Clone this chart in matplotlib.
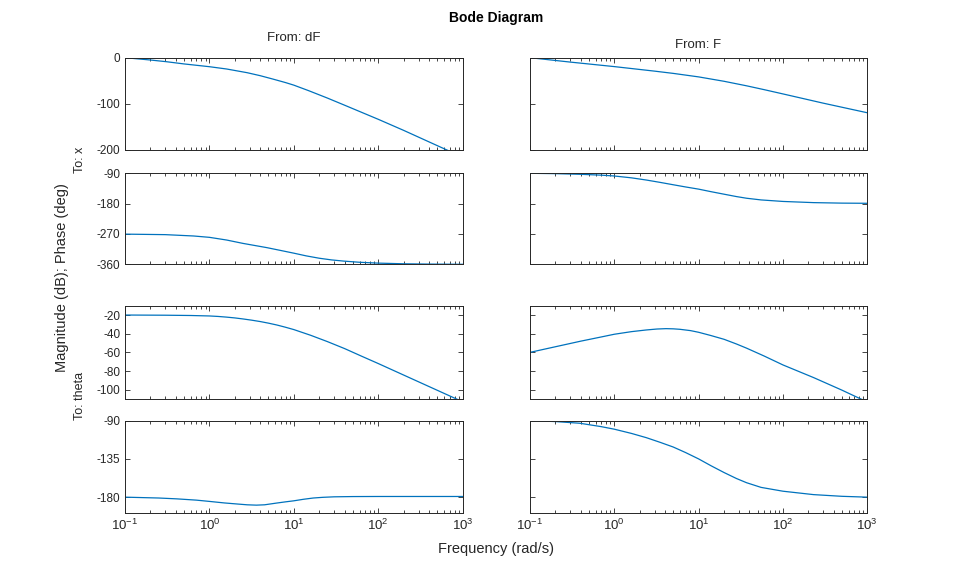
import matplotlib
matplotlib.use("Agg")
import matplotlib.pyplot as plt

plt.rcParams['font.family'] = ['Liberation Sans', 'DejaVu Sans']
plt.rcParams['mathtext.fontset'] = 'custom'
plt.rcParams['mathtext.rm'] = 'Liberation Sans'
plt.rcParams['axes.unicode_minus'] = False

### data (rad/s, dB, deg)
w_mag_dF_x = [0.1, 0.2, 0.31, 0.5, 1, 1.6, 2.8, 4, 5.7, 8, 10, 15, 25, 40, 60,
              100, 200, 400, 650, 1000]
mag_dF_x = [0, -5, -8.7, -13.5, -19.5, -24.5, -32.5, -39, -46.5, -54, -59.5,
            -71.5, -87.5, -103, -116.5, -133.5, -157.5, -182.5, -200, -215]
w_ph_dF_x = [0.1, 0.3, 0.65, 1, 1.6, 2.5, 3.5, 4.8, 7, 10, 14, 20, 28, 39, 60,
             100, 200, 370, 1000]
ph_dF_x = [-270.5, -272, -276, -280, -288, -298, -304.5, -310.6, -319, -327,
           -335, -342, -347, -350.5, -354, -356.5, -358.5, -359.3, -360]

w_mag_dF_th = [0.1, 0.3, 0.6, 1, 1.26, 1.58, 2, 2.5, 3.16, 4, 5, 6.3, 7.9, 10,
               15.8, 25, 40, 63, 100, 316, 1000]
mag_dF_th = [-20, -20.2, -20.5, -21, -21.5, -22.2, -23.1, -24.2, -25.5, -27,
             -28.7, -30.7, -33, -35.6, -41.7, -48.5, -56, -64, -72, -92.5, -113]
w_ph_dF_th = [0.1, 0.25, 0.41, 0.7, 1, 1.5, 2.1, 2.8, 3.6, 4.5, 6.2, 8, 10, 13,
              17, 22, 30, 50, 100, 1000]
ph_dF_th = [-180, -181, -182, -183.5, -185, -186.8, -188, -189, -189.4, -189,
            -187, -185.5, -184.3, -182.5, -181, -180.2, -179.6, -179.3, -179.2,
            -179.2]

w_mag_F_x = [0.1, 0.3, 1, 3, 5, 10, 20, 37, 60, 100, 300, 1000]
mag_F_x = [0, -9.5, -19.3, -29.1, -34, -41.6, -51.1, -60.9, -69.3, -78.5, -98.5,
           -119.3]
w_ph_F_x = [0.1, 0.2, 0.4, 0.7, 1, 1.6, 2.4, 3.5, 5, 7, 10, 14, 20, 28, 37, 55,
            100, 230, 500, 1000]
ph_F_x = [-90, -91, -93, -95.5, -98, -103.5, -110, -117, -124, -130.5, -137,
          -144.5, -152, -159, -164, -169, -173.5, -177, -178.5, -179]

w_mag_F_th = [0.1, 0.2, 0.4, 0.7, 1, 1.6, 2.4, 3.2, 4.1, 5, 6, 8, 10, 14, 20,
              28, 37, 60, 100, 230, 500, 820, 1000]
mag_F_th = [-60, -54, -48, -43.5, -40.6, -37.8, -36, -35, -34.6, -34.8, -35.3,
            -36.7, -38.5, -42, -46, -51, -55.5, -64, -73.5, -87, -100.5, -109.6,
            -113]
w_ph_F_th = [0.1, 0.2, 0.39, 0.7, 1, 1.6, 2.4, 3.5, 5, 7, 10, 14, 20, 28, 37,
             55, 100, 230, 500, 1000]
ph_F_th = [-90, -91, -93, -97, -100, -105, -110, -115.5, -121, -127.5, -135,
           -143, -151, -158, -163, -168.5, -173, -177, -179, -180]

inputs = ['From: dF', 'From: F']
outputs = ['To: x', 'To: theta']

curves = [
    [(w_mag_dF_x, mag_dF_x), (w_mag_F_x, mag_F_x)],
    [(w_ph_dF_x, ph_dF_x), (w_ph_F_x, ph_F_x)],
    [(w_mag_dF_th, mag_dF_th), (w_mag_F_th, mag_F_th)],
    [(w_ph_dF_th, ph_dF_th), (w_ph_F_th, ph_F_th)],
]
ylims = [(-200, 0), (-360, -90), (-110, -10), (-199, -90)]
yticks = [[0, -100, -200], [-90, -180, -270, -360],
          [-20, -40, -60, -80, -100], [-90, -135, -180]]

W, H = 959, 577
col_x = [(125, 462.7), (530, 867.3)]
row_y = [(57.7, 150), (173.3, 264.3), (305.7, 399), (420.7, 513.3)]
gray = '#262626'
blue = '#0072BD'

fig = plt.figure(figsize=(W / 100, H / 100), dpi=100)

for r in range(4):
    for c in range(2):
        x0, x1 = col_x[c]
        y0, y1 = row_y[r]
        ax = fig.add_axes([x0 / W, 1 - y1 / H, (x1 - x0) / W, (y1 - y0) / H])
        w, v = curves[r][c]
        ax.semilogx(w, v, color=blue, lw=0.9)
        ax.set_xlim(0.1, 1000)
        ax.set_ylim(*ylims[r])
        ax.set_yticks(yticks[r])
        ax.set_xticks([0.1, 1, 10, 100, 1000])
        ax.tick_params(which='both', direction='in', top=True, right=True,
                       colors=gray, labelsize=8.5, width=0.6)
        ax.tick_params(which='major', length=3.5)
        ax.tick_params(which='minor', length=2)
        for s in ax.spines.values():
            s.set_color(gray)
            s.set_linewidth(0.7)
        if r < 3:
            ax.set_xticklabels([])
        else:
            ax.set_xticklabels([r'$10^{-1}$', r'$10^{0}$', r'$10^{1}$',
                                r'$10^{2}$', r'$10^{3}$'], fontsize=9.5)
        if c == 1:
            ax.set_yticklabels([])
        else:
            ax.set_yticklabels([str(t) for t in yticks[r]])

fig.text(496 / W, 1 - 18 / H, 'Bode Diagram', ha='center', va='center',
         fontsize=10, fontweight='bold', color='#000000')
fig.text(294 / W, 1 - 38 / H, inputs[0], ha='center', va='center',
         fontsize=9.5, color=gray)
fig.text(698 / W, 1 - 45 / H, inputs[1], ha='center', va='center',
         fontsize=9.5, color=gray)
fig.text(80 / W, 1 - 160 / H, outputs[0], ha='center', va='center',
         rotation=90, fontsize=9, color=gray)
fig.text(80 / W, 1 - 396 / H, outputs[1], ha='center', va='center',
         rotation=90, fontsize=9, color=gray)
fig.text(62 / W, 1 - 278 / H, 'Magnitude (dB); Phase (deg)', ha='center',
         va='center', rotation=90, fontsize=10.5, color=gray)
fig.text(496 / W, 1 - 549 / H, 'Frequency (rad/s)', ha='center',
         va='center', fontsize=10.5, color=gray)

fig.savefig('out.png', dpi=100)
